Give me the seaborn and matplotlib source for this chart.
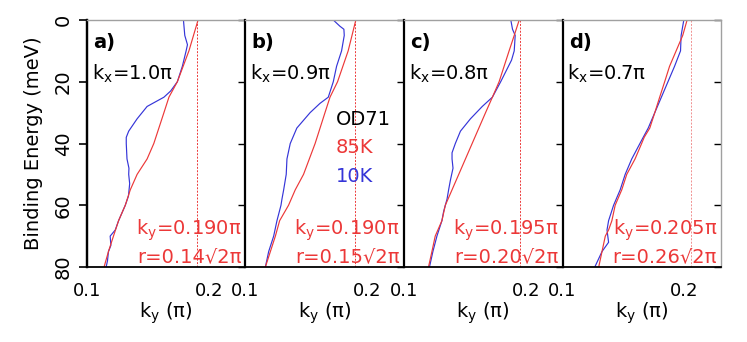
import numpy as np
import pandas as pd
import matplotlib
matplotlib.use("Agg")
import matplotlib.pyplot as plt
import seaborn as sns

sns.set_style("white")
plt.rcParams['font.family'] = ['DejaVu Sans']
plt.rcParams['mathtext.fontset'] = 'dejavusans'
plt.rcParams['text.color'] = 'black'
plt.rcParams['axes.labelcolor'] = 'black'
plt.rcParams['xtick.color'] = 'black'
plt.rcParams['ytick.color'] = 'black'

# ---------------- data ----------------
panel_labels = ["a)", "b)", "c)", "d)"]
kx_labels = ["1.0", "0.9", "0.8", "0.7"]
ky_values = [0.190, 0.190, 0.195, 0.205]
r_labels = ["0.14", "0.15", "0.20", "0.26"]

# 85K (red) dispersions: energy (meV) and ky (pi)
red_E_a = [0, 10, 20, 25, 30, 40, 45, 50, 55, 60, 65, 70, 75, 80]
red_k_a = [0.1911, 0.1836, 0.1741, 0.1672, 0.1631, 0.1548, 0.1493, 0.1411, 0.1355, 0.1314, 0.1259, 0.1217, 0.1176, 0.1140]
red_E_b = [0, 10, 20, 25, 30, 40, 50, 55, 60, 65, 70, 75, 80]
red_k_b = [0.1905, 0.1842, 0.1755, 0.1693, 0.1652, 0.1571, 0.1476, 0.1408, 0.1353, 0.1280, 0.1245, 0.1204, 0.1163]
red_E_c = [0, 5, 10, 20, 25, 30, 40, 50, 60, 65, 70, 75, 80]
red_k_c = [0.1945, 0.1904, 0.1862, 0.1780, 0.1725, 0.1669, 0.1559, 0.1449, 0.1339, 0.1311, 0.1256, 0.1229, 0.1201]
red_E_d = [0, 5, 10, 15, 20, 25, 30, 35, 38, 40, 45, 50, 55, 60, 65, 68, 70, 75, 80]
red_k_d = [0.2022, 0.1986, 0.1932, 0.1878, 0.1838, 0.1797, 0.1757, 0.1716, 0.1670, 0.1649, 0.1595, 0.1527, 0.1486, 0.1432, 0.1405, 0.1378, 0.1351, 0.1324, 0.1297]

# 10K (blue) dispersions
blue_E_a = [0, 5, 8, 10, 15, 20, 23, 25, 28, 32, 36, 38, 40, 45, 48, 50, 53, 57, 60, 65, 68, 70, 73, 75, 78, 80]
blue_k_a = [0.1791, 0.1802, 0.1824, 0.1813, 0.1782, 0.1741, 0.1686, 0.1631, 0.1493, 0.1411, 0.1342, 0.1322, 0.1322, 0.1328, 0.1344, 0.1342, 0.1350, 0.1340, 0.1314, 0.1259, 0.1232, 0.1190, 0.1196, 0.1176, 0.1168, 0.1157]
blue_E_b = [0, 2, 3, 5, 10, 15, 20, 25, 27, 30, 35, 40, 45, 50, 55, 58, 60, 65, 70, 75, 80]
blue_k_b = [0.1720, 0.1774, 0.1807, 0.1810, 0.1788, 0.1747, 0.1720, 0.1679, 0.1611, 0.1530, 0.1421, 0.1367, 0.1340, 0.1334, 0.1313, 0.1299, 0.1291, 0.1258, 0.1231, 0.1190, 0.1163]
blue_E_c = [0, 3, 5, 10, 13, 20, 25, 28, 32, 36, 40, 43, 45, 48, 52, 55, 58, 60, 62, 65, 70, 75, 80]
blue_k_c = [0.1876, 0.1890, 0.1912, 0.1904, 0.1882, 0.1793, 0.1725, 0.1642, 0.1545, 0.1463, 0.1421, 0.1394, 0.1394, 0.1402, 0.1380, 0.1366, 0.1353, 0.1339, 0.1325, 0.1311, 0.1270, 0.1237, 0.1209]
blue_E_d = [0, 5, 10, 15, 20, 25, 30, 35, 38, 40, 45, 50, 55, 60, 65, 68, 72, 75, 80]
blue_k_d = [0.1995, 0.1973, 0.1968, 0.1919, 0.1865, 0.1811, 0.1757, 0.1703, 0.1662, 0.1635, 0.1568, 0.1514, 0.1473, 0.1419, 0.1378, 0.1365, 0.1378, 0.1324, 0.1265]

red_E = [red_E_a, red_E_b, red_E_c, red_E_d]
red_k = [red_k_a, red_k_b, red_k_c, red_k_d]
blue_E = [blue_E_a, blue_E_b, blue_E_c, blue_E_d]
blue_k = [blue_k_a, blue_k_b, blue_k_c, blue_k_d]

x_ticks = [0.1, 0.15, 0.2]
x_ticklabels = ["0.1", "", "0.2"]
y_ticks = [0, 20, 40, 60, 80]

RED = "#ec3838"
BLUE = "#3535d8"

# ---------------- figure ----------------
fig = plt.figure(figsize=(7.47, 3.42), dpi=100)
gs = fig.add_gridspec(1, 4, left=87/747, right=721/747, top=1-20/342, bottom=1-267/342, wspace=0)
axes = [fig.add_subplot(gs[0, i]) for i in range(4)]

fs = 14
for i, ax in enumerate(axes):
    dr = pd.DataFrame({"k": red_k[i], "E": red_E[i]})
    db = pd.DataFrame({"k": blue_k[i], "E": blue_E[i]})
    sns.lineplot(data=db, x="k", y="E", sort=False, estimator=None, color=BLUE, lw=0.85, ax=ax)
    sns.lineplot(data=dr, x="k", y="E", sort=False, estimator=None, color=RED, lw=0.85, ax=ax)
    ax.axvline(ky_values[i], color=RED if i < 3 else "#f09090", lw=0.7, ls=(0, (2, 1.5)))
    ax.set_xlim(0.1, 0.23)
    ax.set_ylim(80, 0)
    ax.set_xticks(x_ticks)
    ax.set_xticklabels(x_ticklabels, fontsize=13)
    ax.set_yticks(y_ticks)
    ax.set_xlabel("k$_\\mathregular{y}$ (π)", fontsize=fs, labelpad=0)
    ax.set_ylabel("")
    ax.tick_params(axis='x', direction='out', length=6, width=1.2, pad=5, colors='black')
    # right-side ticks pointing into the panel
    ax.tick_params(axis='y', left=False, right=True, labelleft=False, labelright=False,
                   direction='in', length=5, width=1.0, colors='black')
    for s in ["top", "right"]:
        ax.spines[s].set_color("#a0a0a0")
        ax.spines[s].set_linewidth(1.0)
    ax.spines["left"].set_color("black")
    ax.spines["left"].set_linewidth(1.6)
    ax.spines["bottom"].set_color("black")
    ax.spines["bottom"].set_linewidth(1.3)

    ax.text(0.04, 0.887, panel_labels[i], transform=ax.transAxes, fontsize=fs, fontweight='bold',
            ha='left', va='baseline', color='black')
    ax.text(0.03, 0.757, "k$_\\mathregular{x}$=" + kx_labels[i] + "π", transform=ax.transAxes,
            fontsize=fs, ha='left', va='baseline', color='black')
    ax.text(0.975, 0.13, "k$_\\mathregular{y}$=" + f"{ky_values[i]:.3f}" + "π", transform=ax.transAxes,
            fontsize=fs, ha='right', va='baseline', color=RED)
    ax.text(0.975, 0.02, "r=" + r_labels[i] + "√2π", transform=ax.transAxes,
            fontsize=fs, ha='right', va='baseline', color=RED)

# left axis of panel a
ax0 = axes[0]
sec = ax0.secondary_yaxis('left')
sec.set_yticks(y_ticks)
sec.set_yticklabels([str(v) for v in y_ticks], fontsize=14, rotation=90, va='center')
sec.tick_params(direction='out', length=6, width=1.2, pad=4, colors='black')
sec.spines['left'].set_linewidth(1.6)
sec.spines['left'].set_color('black')
sec.set_ylabel("Binding Energy (meV)", fontsize=14, labelpad=8, color='black')

# legend text in panel b
axb = axes[1]
axb.text(0.57, 0.575, "OD71", transform=axb.transAxes, fontsize=fs, color='black', va='baseline')
axb.text(0.57, 0.462, "85K", transform=axb.transAxes, fontsize=fs, color=RED, va='baseline')
axb.text(0.57, 0.344, "10K", transform=axb.transAxes, fontsize=fs, color=BLUE, va='baseline')

fig.savefig("out.png", dpi=100)
